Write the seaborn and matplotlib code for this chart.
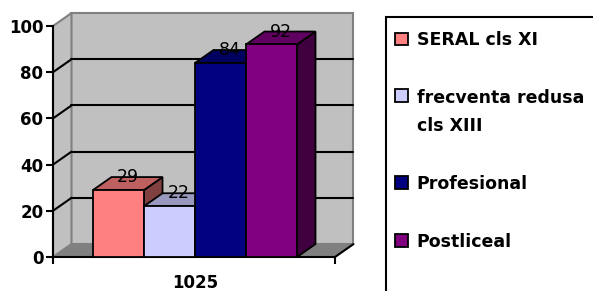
import numpy as np
import pandas as pd
import seaborn as sns
import matplotlib
matplotlib.use("Agg")
import matplotlib.pyplot as plt
from matplotlib.patches import Polygon, Rectangle

sns.set_theme(style="white")
plt.rcParams['font.family'] = ['DejaVu Sans']
plt.rcParams.update({"text.color": "black", "xtick.color": "black", "ytick.color": "black",
                     "axes.labelcolor": "black"})

# date
grupa = ["1025"]
serii = ["SERAL cls XI", "frecventa redusa\ncls XIII", "Profesional", "Postliceal"]
valori = [29, 22, 84, 92]
culori = ["#FF8080", "#CCCCFF", "#000080", "#800080"]
yticks = [0, 20, 40, 60, 80, 100]

df = pd.DataFrame({"grupa": grupa * len(serii), "serie": serii, "valoare": valori})

fig = plt.figure(figsize=(5.93, 2.91), dpi=100)
ax = fig.add_axes([53/593, 1-257/291, (335-53)/593, (257-26)/291])
ax.patch.set_visible(False)

sns.barplot(data=df, x="grupa", y="valoare", hue="serie", hue_order=serii,
            palette=culori, saturation=1, width=0.8, edgecolor="black",
            linewidth=1.3, legend=False, ax=ax)
bars = sorted([p for c in ax.containers for p in c], key=lambda p: p.get_x())

xmin, xmax = -0.557, 0.549
ax.set_xlim(xmin, xmax)
ax.set_ylim(0, 100)
dx, dy = 0.0725, 5.6   # 3d depth in data units

# walls + floor
wall = "#C0C0C0"
ax.add_patch(Polygon([(xmin+dx, dy), (xmax+dx, dy), (xmax+dx, 100+dy), (xmin+dx, 100+dy)],
                     closed=True, fc=wall, ec="#808080", lw=1.5, clip_on=False, zorder=0.5))
ax.add_patch(Polygon([(xmin, 0), (xmin+dx, dy), (xmin+dx, 100+dy), (xmin, 100)],
                     closed=True, fc=wall, ec="#808080", lw=1.5, clip_on=False, zorder=0.5))
ax.add_patch(Polygon([(xmin, 0), (xmin+dx, dy), (xmax+dx, dy), (xmax, 0)],
                     closed=True, fc="#808080", ec="#808080", lw=1, clip_on=False, zorder=0.6))
ax.plot([xmax, xmax+dx], [0, dy], color="black", lw=1.5, clip_on=False, zorder=3)

# gridlines on back wall and side wall
for v in yticks[1:-1]:
    ax.plot([xmin+dx, xmax+dx], [v+dy, v+dy], color="black", lw=1.5, clip_on=False, zorder=1)
    ax.plot([xmin, xmin+dx], [v, v+dy], color="black", lw=1.5, clip_on=False, zorder=1)

# 3d faces for bars
for i, p in enumerate(bars):
    x0, w, h = p.get_x(), p.get_width(), p.get_height()
    c = np.array(matplotlib.colors.to_rgb(p.get_facecolor()))
    p.set_zorder(11 + 2*i)
    top = Polygon([(x0, h), (x0+dx, h+dy), (x0+w+dx, h+dy), (x0+w, h)], closed=True,
                  fc=c*0.75, ec="black", lw=1.3, clip_on=False, zorder=10 + 2*i)
    side = Polygon([(x0+w, 0), (x0+w+dx, dy), (x0+w+dx, h+dy), (x0+w, h)], closed=True,
                   fc=c*0.5, ec="black", lw=1.3, clip_on=False, zorder=10 + 2*i)
    ax.add_patch(side)
    ax.add_patch(top)
    ax.text(x0 + w/2 + dx/2, h + dy, str(int(round(h))), ha="center", va="center",
            fontsize=12.5, color="black", zorder=30, clip_on=False)

# axes
sns.despine(ax=ax, top=True, right=True)
ax.spines["left"].set_color("black")
ax.spines["left"].set_linewidth(1.5)
ax.spines["bottom"].set_color("black")
ax.spines["bottom"].set_linewidth(1.5)
ax.set_yticks(yticks)
ax.set_yticklabels([str(t) for t in yticks], fontsize=12, fontweight="bold")
ax.tick_params(axis="y", left=True, length=5, width=1.5, color="black", pad=2)
ax.set_xticks([0])
ax.set_xticklabels(grupa, fontsize=12, fontweight="bold")
ax.set_xticks([xmin, xmax], minor=True)
ax.tick_params(axis="x", which="major", length=0, pad=12)
ax.tick_params(axis="x", which="minor", bottom=True, length=5, width=1.5, color="black")
ax.set_xlabel("")
ax.set_ylabel("")

# legend
fig.add_artist(Rectangle((386/593, -0.1), 0.5, (291-17)/291 + 0.1, transform=fig.transFigure,
                         fc="white", ec="black", lw=1.5, zorder=0))
leg = fig.legend(handles=bars, labels=serii, loc="upper left",
                 bbox_to_anchor=(395/593, 1 - 31/291), frameon=False,
                 prop={"weight": "bold", "size": 12.5}, handlelength=0.75, handleheight=0.75,
                 handletextpad=0.5, labelspacing=2.3, borderpad=0, borderaxespad=0)
for hnd in leg.legend_handles:
    hnd.set_edgecolor("black")
    hnd.set_linewidth(1.3)
leg.get_texts()[1].set_linespacing(1.7)
# square next to the first line of the two-line entry
leg._legend_handle_box.get_children()[0].get_children()[1].align = "top"

fig.savefig("out.png", dpi=100)
